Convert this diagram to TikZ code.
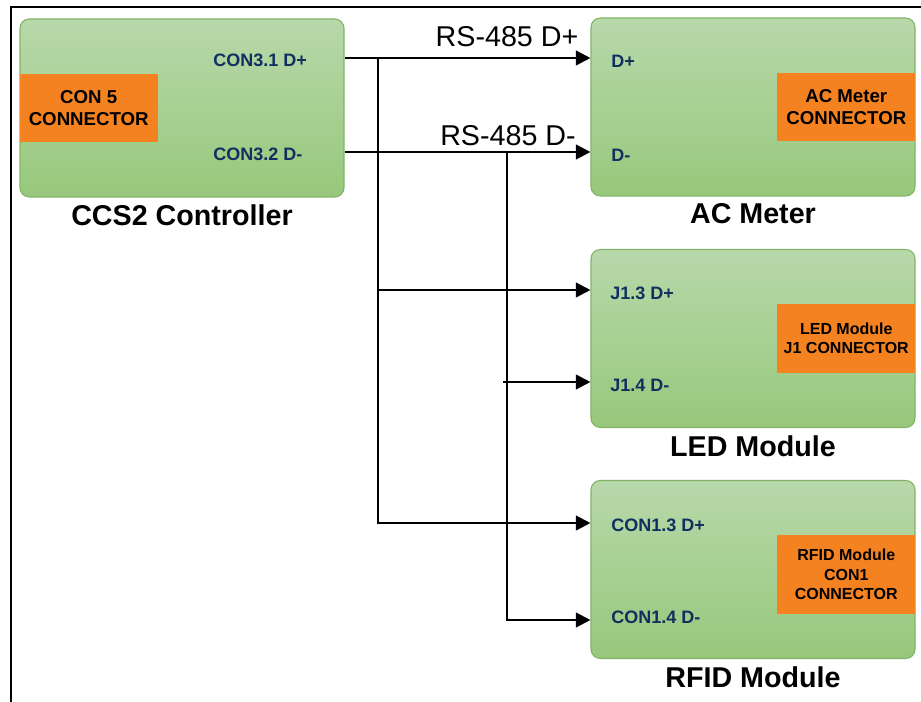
\documentclass[tikz,border=0pt]{standalone}
\usepackage{fontspec}
\setmainfont{Liberation Sans}
\usepackage{tikz}
\usetikzlibrary{arrows.meta,positioning}
\definecolor{boxline}{HTML}{82B366}
\definecolor{boxtop}{HTML}{B8D8AA}
\definecolor{boxbot}{HTML}{97C87C}
\definecolor{connorange}{HTML}{F58220}
\definecolor{pinnavy}{HTML}{10305F}

\begin{document}
\begin{tikzpicture}[x=0.75pt,y=-0.75pt,
  board/.style={draw=boxline,line width=0.8pt,rounded corners=7pt,top color=boxtop,bottom color=boxbot,minimum width=243pt,minimum height=133.5pt},
  conn/.style={fill=connorange,minimum width=103.5pt,minimum height=51pt,inner sep=2pt,align=center,font=\fontsize{14}{16.5}\selectfont\bfseries},
  smallconn/.style={conn,font=\fontsize{12}{14.5}\selectfont\bfseries},
  pin/.style={anchor=west,inner sep=0pt,text=pinnavy,font=\fontsize{13.5}{16}\selectfont\bfseries},
  title/.style={font=\fontsize{21.5}{24}\selectfont\bfseries},
  signal/.style={font=\fontsize{21.5}{24}\selectfont},
  wire/.style={->,line width=1.8pt},
  >={Triangle[length=11pt,width=11pt]},node distance=2pt]
  \useasboundingbox (0,0) rectangle (921,702);
  \draw[line width=2pt] (11,7) rectangle (940,720);
  \node[board] (ccs) at (182,108) {};
  \node[conn,anchor=west] (con5) at (ccs.west) {CON 5\\CONNECTOR};
  \node[title,below=of ccs] (ccsname) {CCS2 Controller};
  \node[board] (ac) at (753,107) {};
  \node[conn,anchor=east] (acconn) at (ac.east) {AC Meter\\CONNECTOR};
  \node[title,below=of ac] (acname) {AC Meter};
  \node[board] (led) at (753,338.5) {};
  \node[smallconn,anchor=east] (ledconn) at (led.east) {LED Module\\J1 CONNECTOR};
  \node[title,below=of led] (ledname) {LED Module};
  \node[board] (rfid) at (753,569.5) {};
  \node[smallconn,anchor=east,minimum height=59pt] (rfidconn) at ([yshift=-3.75pt]rfid.east) {RFID Module\\CON1\\CONNECTOR};
  \node[title,below=of rfid] (rfidname) {RFID Module};
  \node[pin] (con31) at (213,60) {CON3.1 D+};
  \node[pin] (con32) at (213,154) {CON3.2 D-};
  \node[pin] (acdp) at (611,61) {D+};
  \node[pin] (acdm) at (611,155) {D-};
  \node[pin] (j13) at (610,293) {J1.3 D+};
  \node[pin] (j14) at (610,385) {J1.4 D-};
  \node[pin] (con13) at (611,525) {CON1.3 D+};
  \node[pin] (con14) at (611,617) {CON1.4 D-};
  \coordinate (tapA) at (378,58);
  \coordinate (tapB) at (378,290);
  \coordinate (tapC) at (378,523);
  \coordinate (tapD) at (507,152);
  \coordinate (tapE) at (503,382);
  \coordinate (tapF) at (507,620);
  \draw[wire] (ccs.east |- tapA) -- (ac.west |- tapA);
  \draw[wire] (ccs.east |- tapD) -- (ac.west |- tapD);
  \draw[wire] (tapA) |- (rfid.west |- tapC);
  \draw[wire] (tapB) -- (led.west |- tapB);
  \draw[wire] (tapD) |- (rfid.west |- tapF);
  \draw[wire] (tapE) -- (led.west |- tapE);
  \node[signal] (rsdp) at (507,37) {RS-485 D+};
  \node[signal] (rsdm) at (508,136) {RS-485 D-};
\end{tikzpicture}
\end{document}
